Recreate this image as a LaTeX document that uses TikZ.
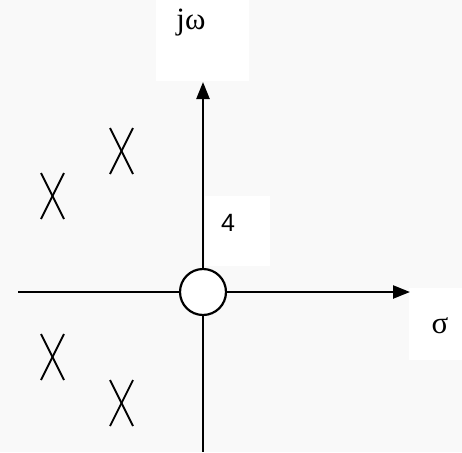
\documentclass[tikz,border=0pt]{standalone}
\usepackage{fontspec}
\setmainfont{Liberation Serif}
\newfontfamily\digitfont{Liberation Sans}
\usetikzlibrary{arrows.meta}
\tikzset{
  bigserif/.style={font={\fontsize{31}{33}\selectfont}},
  bigsans/.style={font={\digitfont\fontsize{25}{27}\selectfont}}
}
\begin{document}
\begin{tikzpicture}[x=1pt,y=-1pt,
  axis/.style={line width=2.4pt,-{Triangle[length=17pt,width=13pt]}},
  plainaxis/.style={line width=2.4pt},
  pole/.style={line width=1.8pt},
  whitebox/.style={fill=white,draw=none}]
\fill[gray!5] (0,0) rectangle (462,452);
\useasboundingbox (0,0) rectangle (462,452);
% white label boxes
\fill[whitebox] (156,0) rectangle (249,81);
\fill[whitebox] (205,196) rectangle (270,266);
\fill[whitebox] (409,288) rectangle (462,360);
% labels
\node[inner sep=0pt,anchor=base,bigserif] (jw) at (191,30) {jω};
\node[inner sep=0pt,anchor=base,bigsans] (four) at (228,231) {4};
\node[inner sep=0pt,anchor=base,bigserif] (sig) at (440,333) {σ};
% axes
\coordinate (o) at (203,292);
\coordinate (top) at (203,82);
\coordinate (bot) at (203,452);
\coordinate (left) at (18,292);
\coordinate (right) at (410,292);
\draw[axis] (o) -- (top);
\draw[plainaxis] (o) -- (bot);
\draw[plainaxis] (o) -- (left);
\draw[axis] (o) -- (right);
\node[circle,draw,line width=2.2pt,fill=white,minimum size=46pt,inner sep=0pt] (zero) at (o) {};
% poles
\foreach \cx/\cy in {121.5/151, 52.5/196, 52.5/357, 121.5/403}{
  \draw[pole] (\cx-11.5,\cy-23) -- (\cx+11.5,\cy+23);
  \draw[pole] (\cx+11.5,\cy-23) -- (\cx-11.5,\cy+23);
}
\end{tikzpicture}
\end{document}
